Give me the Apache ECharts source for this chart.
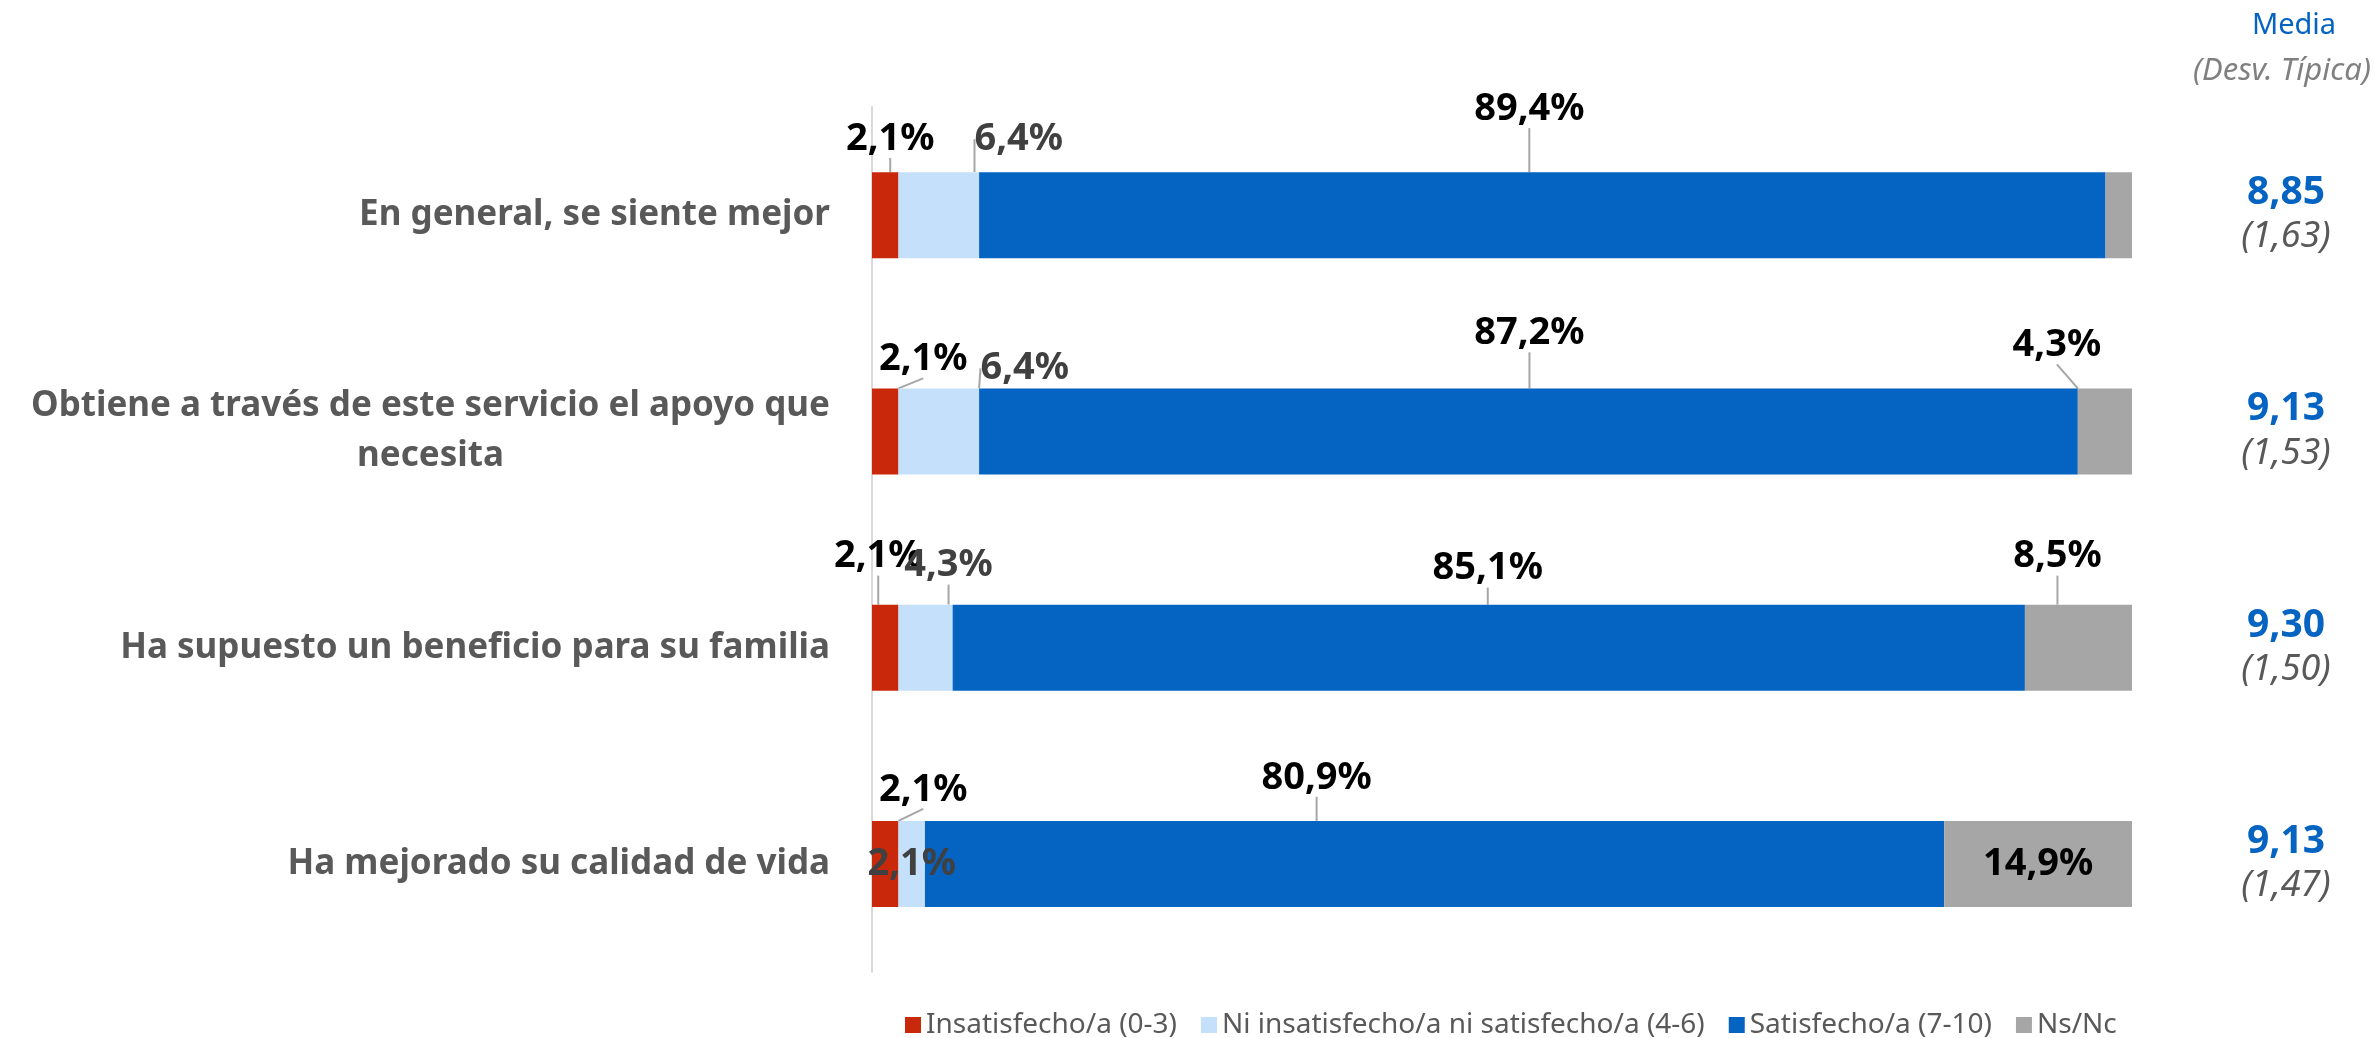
<!DOCTYPE html>
<html>
<head>
<meta charset="utf-8">
<script src="https://cdn.jsdelivr.net/npm/echarts@6/dist/echarts.min.js"></script>
<style>
html, body { margin: 0; padding: 0; background: #fff; }
#chart { width: 2374px; height: 1038px; }
</style>
</head>
<body>
<div id="chart"></div>
<script>
const categories = [
  'En general, se siente mejor',
  'Obtiene a través de este servicio el apoyo que\nnecesita',
  'Ha supuesto un beneficio para su familia',
  'Ha mejorado su calidad de vida'
]
const seriesNames = ['Insatisfecho/a (0-3)', 'Ni insatisfecho/a ni satisfecho/a (4-6)', 'Satisfecho/a (7-10)', 'Ns/Nc']
const insatisfecho = [2.1, 2.1, 2.1, 2.1]
const neutral = [6.4, 6.4, 4.3, 2.1]
const satisfecho = [89.4, 87.2, 85.1, 80.9]
const nsnc = [2.1, 4.3, 8.5, 14.9]
const media = ['8,85', '9,13', '9,30', '9,13']
const desv = ['(1,63)', '(1,53)', '(1,50)', '(1,47)']

const values = [insatisfecho, neutral, satisfecho, nsnc]
const colors = ['#C9290A', '#C5E0FA', '#0563C1', '#A6A6A6']
const labelColors = ['#000000', '#404040', '#000000', '#000000']
// label offsets from the segment centre (excel-style callouts), null = no label
const labelNudge = [
  [[5, -76], [38, -72], [-7, -91], [38, -74]],
  [[80, -76], [86, -63], [23, -82], [0, 0]],
  [[-13, -106], [1, -98], [-1, -79], [-118, -86]],
  [null, [-48, -86], [-21, -91], [0, 0]]
]

const font = 'Noto Sans'
const fmt = p => p.value.toFixed(1).replace('.', ',') + '%'

const chart = echarts.init(document.getElementById('chart'))
chart.setOption({
  animation: false,
  textStyle: { fontFamily: font },
  grid: { left: 872, right: 242, top: 107, bottom: 66 },
  legend: {
    data: seriesNames,
    left: 900,
    top: 1006,
    icon: 'rect',
    itemWidth: 16,
    itemHeight: 16,
    itemGap: 24,
    textStyle: { fontSize: 28, color: '#595959', fontFamily: font }
  },
  xAxis: { type: 'value', min: 0, max: 100, show: false },
  yAxis: [
    {
      type: 'category',
      data: categories,
      inverse: true,
      axisLine: { show: true, lineStyle: { color: '#D9D9D9', width: 2 } },
      axisTick: { show: false },
      axisLabel: {
        margin: 42,
        align: 'right',
        formatter: v => v.split('\n').map(s => '{c|' + s + '}').join('\n'),
        rich: { c: { align: 'center', fontSize: 35, fontWeight: 'bold', color: '#595959', lineHeight: 50, fontFamily: font } }
      }
    },
    {
      type: 'category',
      data: categories,
      inverse: true,
      position: 'right',
      axisLine: { show: false },
      axisTick: { show: false },
      axisLabel: {
        margin: 154,
        align: 'center',
        formatter: (v, i) => '{m|' + media[i] + '}\n{s|' + desv[i] + '}',
        rich: {
          m: { fontSize: 39, fontWeight: 'bold', color: '#0563C1', lineHeight: 44, fontFamily: font },
          s: { fontSize: 36, fontStyle: 'italic', color: '#595959', lineHeight: 44, fontFamily: font }
        }
      }
    }
  ],
  graphic: [
    { type: 'text', x: 2294, y: 26, style: { text: 'Media', fill: '#0563C1', font: '29px "Noto Sans"', textAlign: 'center', textVerticalAlign: 'middle' } },
    { type: 'text', x: 2282, y: 71, style: { text: '(Desv. Típica)', fill: '#808080', font: 'italic 31px "Noto Sans"', textAlign: 'center', textVerticalAlign: 'middle' } }
  ],
  series: seriesNames.map((name, si) => ({
    name,
    type: 'bar',
    stack: 'total',
    barWidth: 86,
    itemStyle: { color: colors[si] },
    data: values[si].map((v, i) => {
      const n = labelNudge[si][i]
      return {
        value: v,
        label: { show: n !== null },
        labelLine: { show: !!n && (n[0] !== 0 || n[1] !== 0) }
      }
    }),
    label: {
      show: true,
      position: 'inside',
      formatter: fmt,
      fontSize: 38,
      fontWeight: 'bold',
      color: labelColors[si],
      fontFamily: font
    },
    labelLine: { show: true, lineStyle: { color: '#A6A6A6', width: 2 } },
    labelLayout: p => {
      const n = labelNudge[si][p.dataIndex]
      return n ? { dx: n[0], dy: n[1] } : {}
    }
  }))
})
</script>
</body>
</html>
